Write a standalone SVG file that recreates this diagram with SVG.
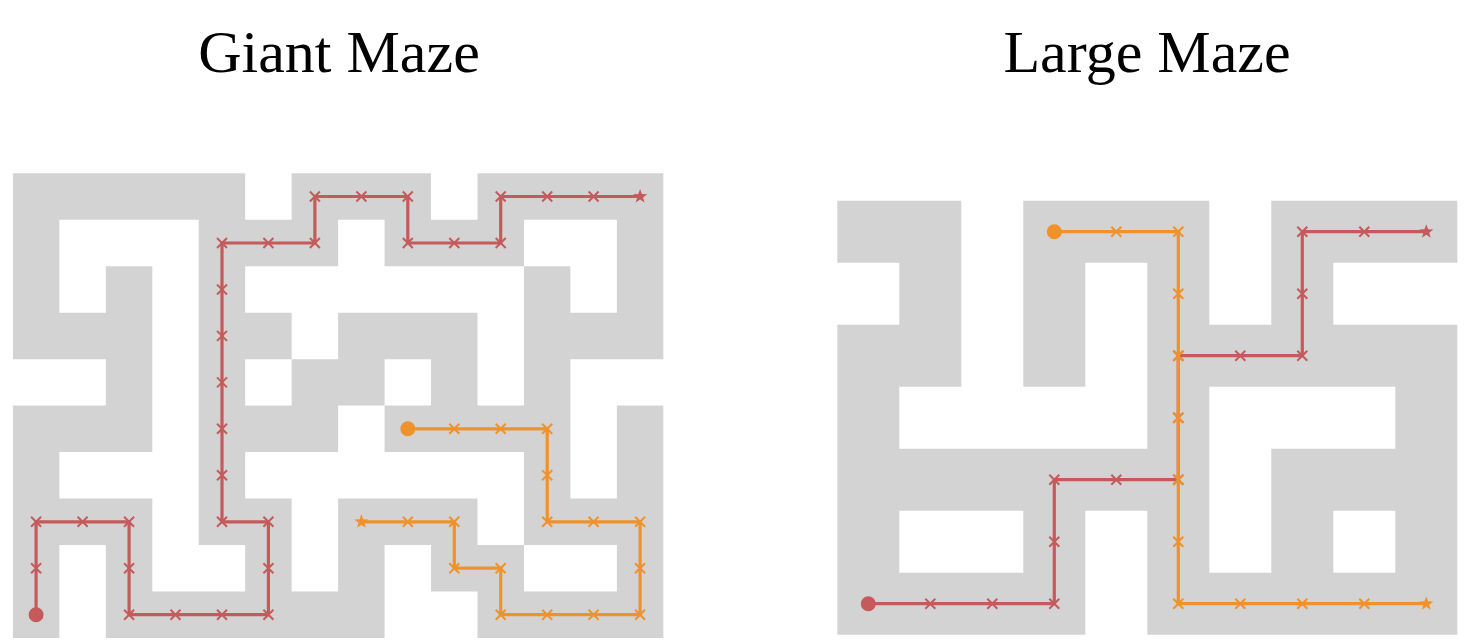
<svg xmlns="http://www.w3.org/2000/svg" xmlns:xlink="http://www.w3.org/1999/xlink" width="1471" height="640" viewBox="0 0 1471 640">
<style>
.title{font-family:"Liberation Serif","Times New Roman",serif;font-size:60px;fill:#000;text-anchor:middle}
.floor{fill:#d3d3d3}
.red{stroke:#c55a5c;fill:none;stroke-width:3.2}
.org{stroke:#f0922c;fill:none;stroke-width:3.2}
.redm{stroke:#c55a5c;fill:none;stroke-width:2}
.orgm{stroke:#f0922c;fill:none;stroke-width:2}
.redf{fill:#c55a5c}
.orgf{fill:#f0922c}
</style>
<defs>
<path id="xm" d="M-5-5L5 5M-5 5L5-5"/>
<path id="star" d="M0,-7.5L1.82,-2.52L7.13,-2.32L2.96,0.96L4.41,6.07L0,3.1L-4.41,6.07L-2.96,0.96L-7.13,-2.32L-1.82,-2.52Z"/>
</defs>
<rect width="1471" height="640" fill="#fff"/>
<g id="titles">
<text class="title" x="339" y="72">Giant Maze</text>
<text class="title" x="1147" y="72">Large Maze</text>
</g>
<g id="giant-maze">
<path class="floor" transform="translate(12.9,173.3) scale(46.46)" d="M0 0h5v1h-5z M6 0h3v1h-3z M10 0h4v1h-4z M0 1h1v1h-1z M4 1h3v1h-3z M8 1h3v1h-3z M13 1h1v1h-1z M0 2h1v1h-1z M2 2h1v1h-1z M4 2h1v1h-1z M11 2h1v1h-1z M13 2h1v1h-1z M0 3h3v1h-3z M4 3h2v1h-2z M7 3h3v1h-3z M11 3h3v1h-3z M2 4h1v1h-1z M4 4h1v1h-1z M6 4h2v1h-2z M9 4h1v1h-1z M11 4h1v1h-1z M0 5h3v1h-3z M4 5h3v1h-3z M8 5h4v1h-4z M13 5h1v1h-1z M0 6h1v1h-1z M4 6h1v1h-1z M11 6h1v1h-1z M13 6h1v1h-1z M0 7h3v1h-3z M4 7h2v1h-2z M7 7h3v1h-3z M11 7h3v1h-3z M0 8h1v1h-1z M2 8h1v1h-1z M5 8h1v1h-1z M7 8h1v1h-1z M9 8h2v1h-2z M13 8h1v1h-1z M0 9h1v1h-1z M2 9h6v1h-6z M10 9h4v1h-4z"/>
</g>
<g id="large-maze">
<path class="floor" transform="translate(837.3,200.7) scale(62)" d="M0 0h2v1h-2z M3 0h3v1h-3z M7 0h3v1h-3z M1 1h1v1h-1z M3 1h1v1h-1z M5 1h1v1h-1z M7 1h1v1h-1z M0 2h2v1h-2z M3 2h1v1h-1z M5 2h5v1h-5z M0 3h1v1h-1z M5 3h1v1h-1z M9 3h1v1h-1z M0 4h6v1h-6z M7 4h3v1h-3z M0 5h1v1h-1z M3 5h1v1h-1z M5 5h1v1h-1z M7 5h1v1h-1z M9 5h1v1h-1z M0 6h4v1h-4z M5 6h5v1h-5z"/>
</g>
<g id="connectors">
<g id="giant-red-path">
<polyline class="red" points="36.1,614.7 36.1,521.8 129.1,521.8 129.1,614.7 268.4,614.7 268.4,521.8 222,521.8 222,243 314.9,243 314.9,196.5 407.8,196.5 407.8,243 500.7,243 500.7,196.5 640.1,196.5"/>
<g class="redm">
<use xlink:href="#xm" x="36.1" y="568.2"/><use xlink:href="#xm" x="36.1" y="521.8"/><use xlink:href="#xm" x="82.6" y="521.8"/><use xlink:href="#xm" x="129.1" y="521.8"/><use xlink:href="#xm" x="129.1" y="568.2"/><use xlink:href="#xm" x="129.1" y="614.7"/><use xlink:href="#xm" x="175.5" y="614.7"/><use xlink:href="#xm" x="222" y="614.7"/><use xlink:href="#xm" x="268.4" y="614.7"/><use xlink:href="#xm" x="268.4" y="568.2"/><use xlink:href="#xm" x="268.4" y="521.8"/><use xlink:href="#xm" x="222" y="521.8"/><use xlink:href="#xm" x="222" y="475.3"/><use xlink:href="#xm" x="222" y="428.8"/><use xlink:href="#xm" x="222" y="382.4"/><use xlink:href="#xm" x="222" y="335.9"/><use xlink:href="#xm" x="222" y="289.5"/><use xlink:href="#xm" x="222" y="243"/><use xlink:href="#xm" x="268.4" y="243"/><use xlink:href="#xm" x="314.9" y="243"/><use xlink:href="#xm" x="314.9" y="196.5"/><use xlink:href="#xm" x="361.4" y="196.5"/><use xlink:href="#xm" x="407.8" y="196.5"/><use xlink:href="#xm" x="407.8" y="243"/><use xlink:href="#xm" x="454.3" y="243"/><use xlink:href="#xm" x="500.7" y="243"/><use xlink:href="#xm" x="500.7" y="196.5"/><use xlink:href="#xm" x="547.2" y="196.5"/><use xlink:href="#xm" x="593.6" y="196.5"/>
</g>
<circle class="redf" cx="36.1" cy="614.7" r="7.5"/>
<use class="redf" xlink:href="#star" x="640.1" y="196.5"/>
</g>
<g id="giant-orange-path">
<polyline class="org" points="407.8,428.8 547.2,428.8 547.2,521.8 640.1,521.8 640.1,614.7 500.7,614.7 500.7,568.2 454.3,568.2 454.3,521.8 361.4,521.8"/>
<g class="orgm">
<use xlink:href="#xm" x="454.3" y="428.8"/><use xlink:href="#xm" x="500.7" y="428.8"/><use xlink:href="#xm" x="547.2" y="428.8"/><use xlink:href="#xm" x="547.2" y="475.3"/><use xlink:href="#xm" x="547.2" y="521.8"/><use xlink:href="#xm" x="593.6" y="521.8"/><use xlink:href="#xm" x="640.1" y="521.8"/><use xlink:href="#xm" x="640.1" y="568.2"/><use xlink:href="#xm" x="640.1" y="614.7"/><use xlink:href="#xm" x="593.6" y="614.7"/><use xlink:href="#xm" x="547.2" y="614.7"/><use xlink:href="#xm" x="500.7" y="614.7"/><use xlink:href="#xm" x="500.7" y="568.2"/><use xlink:href="#xm" x="454.3" y="568.2"/><use xlink:href="#xm" x="454.3" y="521.8"/><use xlink:href="#xm" x="407.8" y="521.8"/>
</g>
<circle class="orgf" cx="407.8" cy="428.8" r="7.5"/>
<use class="orgf" xlink:href="#star" x="361.4" y="521.8"/>
</g>
<g id="large-red-path">
<polyline class="red" points="868.3,603.7 1054.3,603.7 1054.3,479.7 1178.3,479.7 1178.3,355.7 1302.3,355.7 1302.3,231.7 1426.3,231.7"/>
<g class="redm">
<use xlink:href="#xm" x="930.3" y="603.7"/><use xlink:href="#xm" x="992.3" y="603.7"/><use xlink:href="#xm" x="1054.3" y="603.7"/><use xlink:href="#xm" x="1054.3" y="541.7"/><use xlink:href="#xm" x="1054.3" y="479.7"/><use xlink:href="#xm" x="1116.3" y="479.7"/><use xlink:href="#xm" x="1178.3" y="479.7"/><use xlink:href="#xm" x="1178.3" y="417.7"/><use xlink:href="#xm" x="1178.3" y="355.7"/><use xlink:href="#xm" x="1240.3" y="355.7"/><use xlink:href="#xm" x="1302.3" y="355.7"/><use xlink:href="#xm" x="1302.3" y="293.7"/><use xlink:href="#xm" x="1302.3" y="231.7"/><use xlink:href="#xm" x="1364.3" y="231.7"/>
</g>
<circle class="redf" cx="868.3" cy="603.7" r="7.5"/>
<use class="redf" xlink:href="#star" x="1426.3" y="231.7"/>
</g>
<g id="large-orange-path">
<polyline class="org" points="1054.3,231.7 1178.3,231.7 1178.3,603.7 1426.3,603.7"/>
<g class="orgm">
<use xlink:href="#xm" x="1116.3" y="231.7"/><use xlink:href="#xm" x="1178.3" y="231.7"/><use xlink:href="#xm" x="1178.3" y="293.7"/><use xlink:href="#xm" x="1178.3" y="355.7"/><use xlink:href="#xm" x="1178.3" y="417.7"/><use xlink:href="#xm" x="1178.3" y="479.7"/><use xlink:href="#xm" x="1178.3" y="541.7"/><use xlink:href="#xm" x="1178.3" y="603.7"/><use xlink:href="#xm" x="1240.3" y="603.7"/><use xlink:href="#xm" x="1302.3" y="603.7"/><use xlink:href="#xm" x="1364.3" y="603.7"/>
</g>
<circle class="orgf" cx="1054.3" cy="231.7" r="7.5"/>
<use class="orgf" xlink:href="#star" x="1426.3" y="603.7"/>
</g>
</g>
</svg>
